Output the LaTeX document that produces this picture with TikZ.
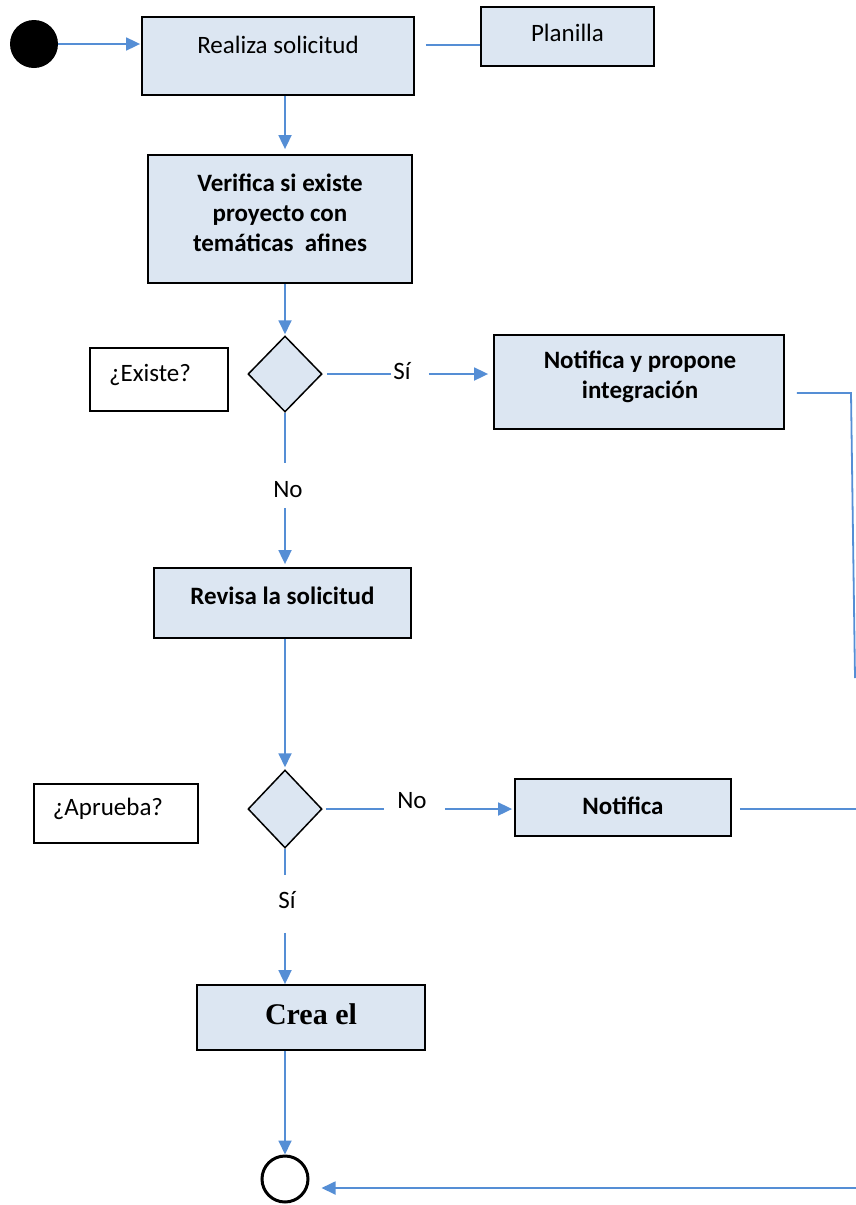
\documentclass[tikz,border=0pt]{standalone}
\usepackage{fontspec}
\setmainfont{Carlito}
\newfontfamily\serifb{Liberation Serif}
\usetikzlibrary{shapes.geometric,arrows.meta,calc}
\definecolor{boxfill}{RGB}{220,230,242}
\definecolor{conn}{RGB}{85,142,213}
\begin{document}
\begin{tikzpicture}[x=1pt,y=-1pt,
  box/.style={draw=black,line width=1.8pt,fill=boxfill,inner sep=0pt},
  plainbox/.style={draw=black,line width=1.5pt,fill=white,inner sep=0pt},
  dia/.style={diamond,draw=black,line width=1.5pt,fill=boxfill,inner sep=0pt},
  txt/.style={font=\fontsize{25}{30}\selectfont,align=center,inner sep=0pt},
  btxt/.style={font=\fontsize{25}{30}\selectfont\bfseries,align=center,inner sep=0pt},
  conline/.style={draw=conn,line width=1.8pt},
  arr/.style={conline,-{Triangle[length=14pt,width=13pt]}},
]
\useasboundingbox (0,0) rectangle (856,1205);

% nodes
\node[circle,fill=black,minimum size=48pt,inner sep=0pt] (start) at (34,44) {};
\node[box,minimum width=272pt,minimum height=78pt] (realiza) at (278,56) {};
\node[txt] (realizaT) at (278,45) {Realiza solicitud};
\node[box,minimum width=173pt,minimum height=59pt] (planilla) at (567.5,36.5) {};
\node[txt] (planillaT) at (567.5,33) {Planilla};
\node[box,minimum width=264pt,minimum height=128pt] (verifica) at (280,219) {};
\node[btxt] (verificaT) at (280,213) {Verifica si existe\\proyecto con\\temáticas\ \ afines};
\node[dia,minimum width=74pt,minimum height=76pt] (d1) at (285,374) {};
\node[plainbox,minimum width=138pt,minimum height=63pt] (existe) at (159,379.5) {};
\node[txt] (existeT) at (150,375) {¿Existe?};
\node[txt] (si1) at (402,371) {Sí};
\node[box,minimum width=290pt,minimum height=94pt] (notprop) at (639,382) {};
\node[btxt] (notpropT) at (640,377) {Notifica y propone\\integración};
\node[txt] (no1) at (288,490) {No};
\node[box,minimum width=257pt,minimum height=70pt] (revisa) at (282.5,603) {};
\node[btxt] (revisaT) at (282.5,596) {Revisa la solicitud};
\node[dia,minimum width=74pt,minimum height=78pt] (d2) at (285,809) {};
\node[plainbox,minimum width=164pt,minimum height=59pt] (aprueba) at (116,813.5) {};
\node[txt] (apruebaT) at (108,809) {¿Aprueba?};
\node[txt] (no2) at (412,801) {No};
\node[box,minimum width=216pt,minimum height=57pt] (notifica) at (623,807.5) {};
\node[btxt] (notificaT) at (623,806) {Notifica};
\node[txt] (si2) at (287,900) {Sí};
\node[box,minimum width=228pt,minimum height=65pt] (crea) at (311,1017.5) {};
\node[font=\serifb\bfseries\fontsize{30}{36}\selectfont,inner sep=0pt] (creaT) at (311,1014) {Crea el};
\node[circle,draw=black,line width=3pt,fill=white,minimum size=46pt,inner sep=0pt] (end) at (285,1179) {};

% free ends on the right
\coordinate (r1) at (851,393);
\coordinate (r2) at (855,678);
\coordinate (r3) at (856,809);
\coordinate (r4) at (856,1188);

% connectors
\draw[arr,shorten >=1pt] (start.east) -- (realiza.west |- start.east);
\draw[conline] ($(realiza.east |- realizaT)+(11,0)$) -- (planilla.west |- realizaT);
\draw[arr,shorten >=5pt] (realiza.south -| d1) -- (verifica.north -| d1);
\draw[arr,shorten >=1pt] (verifica.south -| d1) -- (d1.north);
\draw[conline] ($(d1.east)+(4,0)$) -- ($(si1.west |- d1.east)+(-2,0)$);
\draw[arr,shorten >=5pt] ($(si1.east |- d1.east)+(18,0)$) -- (notprop.west |- d1.east);
\draw[conline] ($(notprop.east)+(12,11)$) -- (r1) -- (r2);
\draw[conline] (d1.south) -- ($(d1.south |- no1.north)+(0,-19)$);
\draw[arr,shorten >=3pt] ($(d1.south |- no1.south)+(0,10)$) -- (revisa.north -| d1);
\draw[arr,shorten >=2pt] (revisa.south -| d1) -- (d2.north);
\draw[conline] ($(d2.east)+(3,0)$) -- ($(no2.west |- d2.east)+(-13,0)$);
\draw[arr,shorten >=2pt] ($(no2.east |- d2.east)+(18,0)$) -- (notifica.west |- d2.east);
\draw[conline] ($(notifica.east |- d2.east)+(8,0)$) -- (r3);
\draw[conline] (d2.south) -- ($(d2.south |- si2.north)+(0,-16)$);
\draw[arr] ($(d2.south |- si2.south)+(0,24)$) -- (crea.north -| d2);
\draw[arr] (crea.south -| d2) -- (end.north);
\draw[arr,shorten >=12pt] (r4) -- (end.east |- r4);
\end{tikzpicture}
\end{document}
